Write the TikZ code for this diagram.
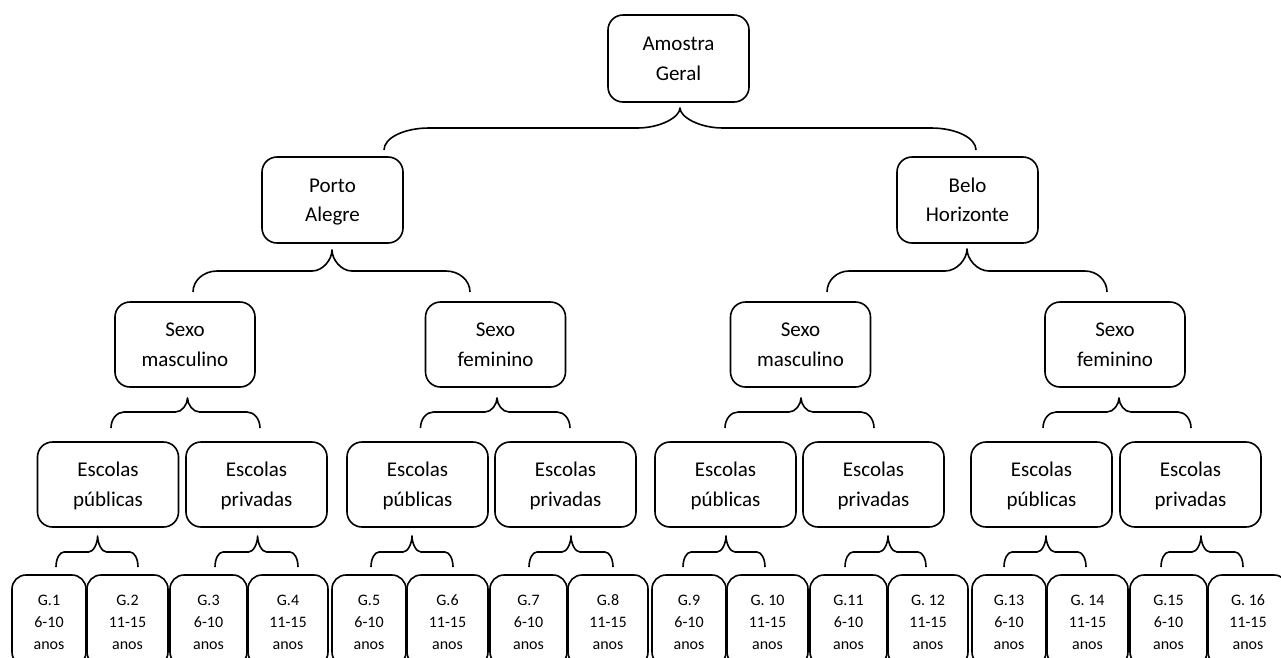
\documentclass[tikz,border=0pt]{standalone}
\usepackage{fontspec}
\setmainfont{Carlito}
\usetikzlibrary{calc}
\newcommand\mytop{\rule{0pt}{21pt}}
\newcommand\mybot{\rule[-7pt]{0pt}{7pt}}
\newcommand\mytopS{\rule{0pt}{20pt}}
\newcommand\mybotS{\rule[-7pt]{0pt}{7pt}}
% #1 tip, #2 left end, #3 right end, #4 level (px), #5 end corner width, #6 tip corner width
\newcommand\cbrace[6]{\draw[brc] let \p1=(#1),\p2=(#2),\p3=(#3),\p4=(0,#4) in
 (\p2) .. controls (\x2,{\y2+0.552*(\y4-\y2)}) and ({\x2+0.448*#5},\y4) .. ({\x2+#5},\y4)
 -- ({\x1-#6},\y4) .. controls ({\x1-0.448*#6},\y4) and (\x1,{\y4+0.552*(\y1-\y4)}) .. (\p1)
 .. controls (\x1,{\y4+0.552*(\y1-\y4)}) and ({\x1+0.448*#6},\y4) .. ({\x1+#6},\y4)
 -- ({\x3-#5},\y4) .. controls ({\x3-0.448*#5},\y4) and (\x3,{\y3+0.552*(\y4-\y3)}) .. (\p3);}
\begin{document}
\begin{tikzpicture}[x=1pt,y=-1pt,
  box/.style={draw, line width=1.6pt, rounded corners=15pt, minimum width=141pt, minimum height=86pt,
    inner sep=0pt, align=center, font=\fontsize{21}{29.5}\selectfont},
  gbox/.style={draw, line width=1.6pt, rounded corners=14pt, minimum height=91pt,
    inner sep=0pt, align=center, font=\fontsize{16}{22}\selectfont},
  brc/.style={line width=1.6pt, line join=round}]
\useasboundingbox (0,0) rectangle (1281,657);
\clip (0,0) rectangle (1281,657);
% level 0-1
\node[box, minimum height=87pt] (am) at (678.5,58.5) {\mytop Amostra\\Geral\mybot};
\node[box] (pa) at (332.5,200) {\mytop Porto\\Alegre\mybot};
\node[box] (bh) at (967.5,200) {\mytop Belo\\Horizonte\mybot};
% level 2
\node[box, minimum width=140pt, minimum height=85pt] (sml) at (185,344.5) {\mytop Sexo\\masculino\mybot};
\node[box, minimum width=140pt, minimum height=85pt] (sfl) at (495.5,344.5) {\mytop Sexo\\feminino\mybot};
\node[box, minimum width=140pt, minimum height=85pt] (smr) at (800.5,344.5) {\mytop Sexo\\masculino\mybot};
\node[box, minimum width=140pt, minimum height=85pt] (sfr) at (1115,344.5) {\mytop Sexo\\feminino\mybot};
% level 3
\node[box, minimum height=85pt] (e1) at (108,484.5) {\mytop Escolas\\públicas\mybot};
\node[box, minimum height=85pt] (e2) at (256.5,484.5) {\mytop Escolas\\privadas\mybot};
\node[box, minimum height=85pt] (e3) at (417.5,484.5) {\mytop Escolas\\públicas\mybot};
\node[box, minimum height=85pt] (e4) at (565.5,484.5) {\mytop Escolas\\privadas\mybot};
\node[box, minimum height=85pt] (e5) at (725.5,484.5) {\mytop Escolas\\públicas\mybot};
\node[box, minimum height=85pt] (e6) at (873.5,484.5) {\mytop Escolas\\privadas\mybot};
\node[box, minimum height=85pt] (e7) at (1041.5,484.5) {\mytop Escolas\\públicas\mybot};
\node[box, minimum height=85pt] (e8) at (1190.5,484.5) {\mytop Escolas\\privadas\mybot};
% level 4
\node[gbox, minimum width=74pt] (g1) at (49,620.5) {\mytopS G.1\\6-10\\anos\mybotS};
\node[gbox, minimum width=81pt] (g2) at (127.5,620.5) {\mytopS G.2\\11-15\\anos\mybotS};
\node[gbox, minimum width=77pt] (g3) at (208.5,620.5) {\mytopS G.3\\6-10\\anos\mybotS};
\node[gbox, minimum width=80pt] (g4) at (288,620.5) {\mytopS G.4\\11-15\\anos\mybotS};
\node[gbox, minimum width=74pt] (g5) at (369,620.5) {\mytopS G.5\\6-10\\anos\mybotS};
\node[gbox, minimum width=81pt] (g6) at (447.5,620.5) {\mytopS G.6\\11-15\\anos\mybotS};
\node[gbox, minimum width=77pt] (g7) at (528.5,620.5) {\mytopS G.7\\6-10\\anos\mybotS};
\node[gbox, minimum width=80pt] (g8) at (608,620.5) {\mytopS G.8\\11-15\\anos\mybotS};
\node[gbox, minimum width=74pt] (g9) at (689,620.5) {\mytopS G.9\\6-10\\anos\mybotS};
\node[gbox, minimum width=81pt] (g10) at (767.5,620.5) {\mytopS G. 10\\11-15\\anos\mybotS};
\node[gbox, minimum width=77pt] (g11) at (848.5,620.5) {\mytopS G.11\\6-10\\anos\mybotS};
\node[gbox, minimum width=80pt] (g12) at (928,620.5) {\mytopS G. 12\\11-15\\anos\mybotS};
\node[gbox, minimum width=74pt] (g13) at (1009,620.5) {\mytopS G.13\\6-10\\anos\mybotS};
\node[gbox, minimum width=81pt] (g14) at (1087.5,620.5) {\mytopS G. 14\\11-15\\anos\mybotS};
\node[gbox, minimum width=77pt] (g15) at (1168.5,620.5) {\mytopS G.15\\6-10\\anos\mybotS};
\node[gbox, minimum width=80pt] (g16) at (1248,620.5) {\mytopS G. 16\\11-15\\anos\mybotS};
% brace coordinates
\coordinate (t0) at (680,108);   \coordinate (l0) at (384,150);   \coordinate (r0) at (976,150);
\coordinate (t1) at (332,250);   \coordinate (l1) at (193,292);   \coordinate (r1) at (470,292);
\coordinate (t2) at (967,249);   \coordinate (l2) at (827,292);   \coordinate (r2) at (1107,292);
\coordinate (t3) at (187.5,398); \coordinate (l3) at (111,428);   \coordinate (r3) at (260,428);
\coordinate (t4) at (497,398);   \coordinate (l4) at (420.5,428); \coordinate (r4) at (570,428);
\coordinate (t5) at (801,398);   \coordinate (l5) at (725,428);   \coordinate (r5) at (874,428);
\coordinate (t6) at (1119,398);  \coordinate (l6) at (1043,428);  \coordinate (r6) at (1191,428);
\coordinate (b1) at (97.6,536);  \coordinate (bl1) at (56,567);   \coordinate (br1) at (138,567);
\coordinate (b2) at (257.6,536); \coordinate (bl2) at (215,567);  \coordinate (br2) at (298,567);
\coordinate (b3) at (412,536);   \coordinate (bl3) at (371,567);  \coordinate (br3) at (453,567);
\coordinate (b4) at (571,536);   \coordinate (bl4) at (529,567);  \coordinate (br4) at (613,567);
\coordinate (b5) at (726,536);   \coordinate (bl5) at (683,567);  \coordinate (br5) at (765,567);
\coordinate (b6) at (888,536);   \coordinate (bl6) at (845,567);  \coordinate (br6) at (926,567);
\coordinate (b7) at (1046,536);  \coordinate (bl7) at (1004,567); \coordinate (br7) at (1086,567);
\coordinate (b8) at (1201,536);  \coordinate (bl8) at (1161,567); \coordinate (br8) at (1243,567);
% braces
\cbrace{t0}{l0}{r0}{128}{45}{43}
\cbrace{t1}{l1}{r1}{271}{24}{20}
\cbrace{t2}{l2}{r2}{271}{22}{22}
\cbrace{t3}{l3}{r3}{412}{13}{12}
\cbrace{t4}{l4}{r4}{412}{13}{12}
\cbrace{t5}{l5}{r5}{412}{13}{12}
\cbrace{t6}{l6}{r6}{412}{13}{12}
\cbrace{b1}{bl1}{br1}{552}{8}{9}
\cbrace{b2}{bl2}{br2}{552}{8}{9}
\cbrace{b3}{bl3}{br3}{552}{8}{9}
\cbrace{b4}{bl4}{br4}{552}{8}{9}
\cbrace{b5}{bl5}{br5}{552}{8}{9}
\cbrace{b6}{bl6}{br6}{552}{8}{9}
\cbrace{b7}{bl7}{br7}{552}{8}{9}
\cbrace{b8}{bl8}{br8}{552}{8}{9}
\end{tikzpicture}
\end{document}
